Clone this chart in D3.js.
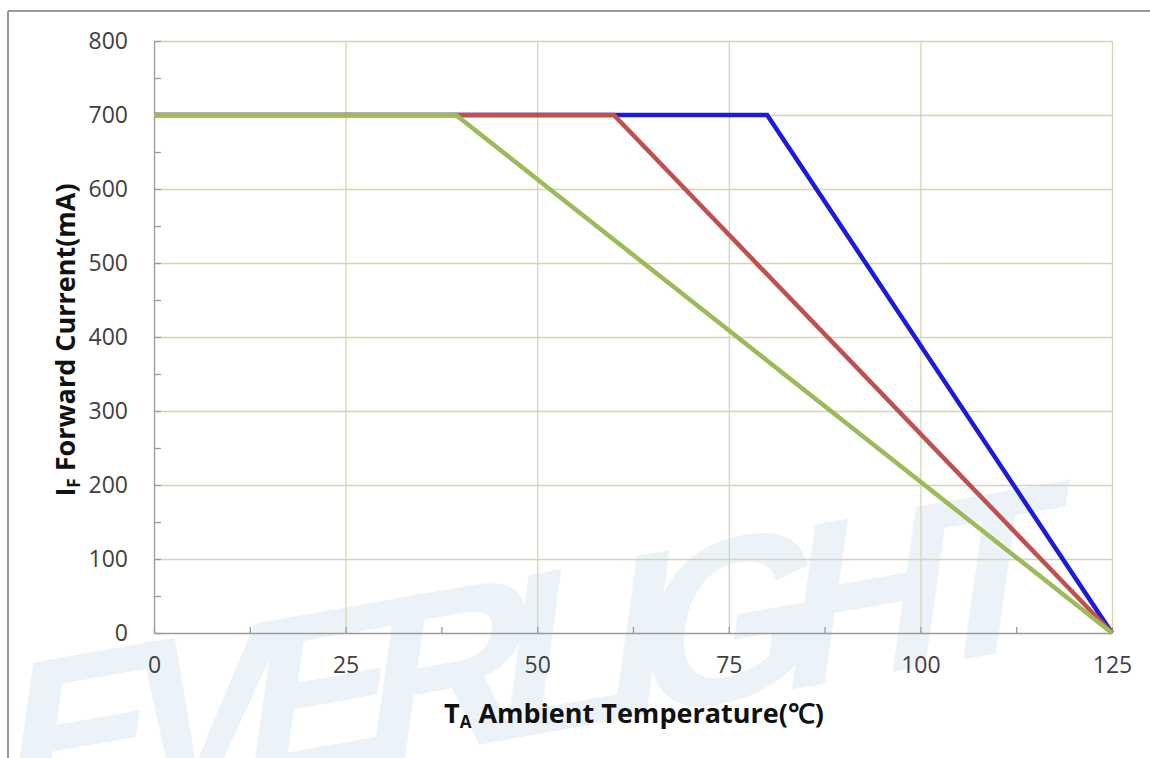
<!DOCTYPE html>
<html><head><meta charset="utf-8">
<script src="https://cdn.jsdelivr.net/npm/d3@7"></script>
<style>body{margin:0;background:#fff}svg{display:block}</style>
</head><body><svg id="c" width="1150" height="758"></svg>
<script>
const xTicks = [0, 25, 50, 75, 100, 125];
const yTicks = [0, 100, 200, 300, 400, 500, 600, 700, 800];
const blueX = [0, 80, 125];
const blueY = [700, 700, 0];
const redX = [0, 60, 125];
const redY = [700, 700, 0];
const greenX = [0, 39.4, 125];
const greenY = [700, 700, 0];
const seriesColors = ["#1c1cd8", "#c0504d", "#9bbb59"];

const svg = d3.select("#c");
const x = d3.scaleLinear().domain([0, 125]).range([154, 1112]);
const y = d3.scaleLinear().domain([0, 800]).range([633, 41]);

// watermark
svg.append("text").attr("x", 0).attr("y", 0)
  .attr("transform", "translate(-5,830) rotate(-10) skewX(-18)")
  .attr("font-family", "Liberation Sans, Arial, sans-serif").attr("font-weight", "bold")
  .attr("font-size", 230).attr("fill", "#ebf3f9").attr("textLength", 1070)
  .attr("lengthAdjust", "spacing")
  .text("EVERLIGHT");

// frame
svg.append("line").attr("x1", 8).attr("x2", 8).attr("y1", 11).attr("y2", 758).attr("stroke", "#999").attr("stroke-width", 2);
svg.append("line").attr("x1", 8).attr("x2", 1150).attr("y1", 11).attr("y2", 11).attr("stroke", "#999").attr("stroke-width", 2);

const grid = "#d8d4b0";
// horizontal gridlines
svg.append("g").attr("transform", "translate(154,0)")
  .call(d3.axisRight(y).tickValues(yTicks.filter(d => d > 0)).tickSize(958).tickFormat(""))
  .call(g => g.select(".domain").remove())
  .call(g => g.selectAll("line").attr("stroke", grid).attr("stroke-width", 1.3));
// vertical gridlines
svg.append("g").attr("transform", "translate(0,633)")
  .call(d3.axisTop(x).tickValues(xTicks.filter(d => d > 0)).tickSize(592).tickFormat(""))
  .call(g => g.select(".domain").remove())
  .call(g => g.selectAll("line").attr("stroke", grid).attr("stroke-width", 1.3));

// axes with inner ticks
const axisColor = "#9a9a9a";
const yMinor = d3.range(0, 801, 50);
svg.append("g").attr("transform", "translate(154,0)")
  .call(d3.axisRight(y).tickValues(yMinor).tickSize(7).tickFormat("").tickSizeOuter(0))
  .call(g => g.selectAll("path,line").attr("stroke", axisColor).attr("stroke-width", 1.3));
const xMinor = d3.range(0, 125.1, 12.5);
svg.append("g").attr("transform", "translate(0,633)")
  .call(d3.axisTop(x).tickValues(xMinor).tickSize(6).tickFormat("").tickSizeOuter(0))
  .call(g => g.selectAll("path,line").attr("stroke", axisColor).attr("stroke-width", 1.3));

// tick labels via axis
const font = "'Open Sans', sans-serif";
svg.append("g").attr("transform", "translate(154,0)")
  .call(d3.axisLeft(y).tickValues(yTicks).tickSize(0).tickPadding(26))
  .call(g => g.select(".domain").remove())
  .call(g => g.selectAll("text").attr("font-family", font).attr("font-size", 23).attr("fill", "#404040"));
svg.append("g").attr("transform", "translate(0,633)")
  .call(d3.axisBottom(x).tickValues(xTicks).tickSize(0).tickPadding(24))
  .call(g => g.select(".domain").remove())
  .call(g => g.selectAll("text").attr("font-family", font).attr("font-size", 23).attr("fill", "#404040"));

// lines
const series = [[blueX, blueY], [redX, redY], [greenX, greenY]];
const line = d3.line().x(d => x(d[0])).y(d => y(d[1]));
series.forEach((s, i) => {
  const pts = s[0].map((v, j) => [v, s[1][j]]);
  svg.append("path").attr("d", line(pts)).attr("fill", "none")
    .attr("stroke", seriesColors[i]).attr("stroke-width", 4.5).attr("stroke-linejoin", "miter");
});

// axis titles
const xt = svg.append("text").attr("x", 634).attr("y", 723).attr("text-anchor", "middle")
  .attr("font-family", font).attr("font-weight", "bold").attr("font-size", 27).attr("fill", "#111");
xt.append("tspan").text("T");
xt.append("tspan").attr("font-size", 17).attr("dy", 5).text("A");
xt.append("tspan").attr("dy", -5).text(" Ambient Temperature(℃)");

const yt = svg.append("text").attr("transform", "translate(75,340) rotate(-90)").attr("text-anchor", "middle")
  .attr("font-family", font).attr("font-weight", "bold").attr("font-size", 27).attr("fill", "#111");
yt.append("tspan").text("I");
yt.append("tspan").attr("font-size", 17).attr("dy", 5).text("F");
yt.append("tspan").attr("dy", -5).text(" Forward Current(mA)");
</script></body></html>
